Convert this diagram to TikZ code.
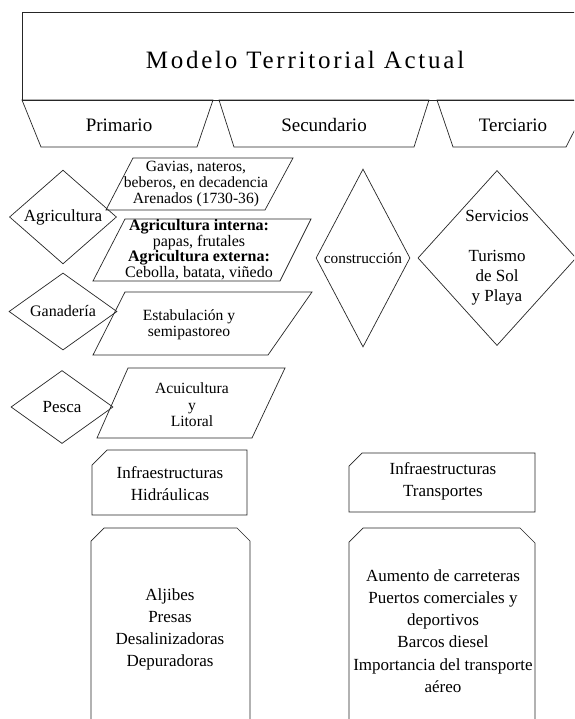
\documentclass[tikz,border=0pt]{standalone}
\usepackage{fontspec}
\setmainfont{Liberation Serif}
\newfontfamily\titlefont[LetterSpace=11]{Liberation Serif}
\usetikzlibrary{shapes.geometric}

\begin{document}
\begin{tikzpicture}[x=1pt, y=-1pt, line width=0.7pt, draw=black!85,
    txt/.style={align=center, inner sep=0pt, font=\fontsize{17}{22}\selectfont},
    tight/.style={align=center, inner sep=0pt, font=\fontsize{15.6}{15.8}\selectfont},
    head/.style={inner sep=0pt, font=\fontsize{19}{22}\selectfont},
    rombo/.style={draw=black!85, diamond, inner sep=0pt, align=center, font=\fontsize{17}{20}\selectfont}]

    \fill[white] (0,0) rectangle (574,719);
    \useasboundingbox (0,0) rectangle (574,719);
    \clip (0,0) rectangle (574,719);

    \draw (22,12) rectangle (590,100);
    \node (titulo) at (305,60) {\titlefont\fontsize{25}{30}\selectfont Modelo Territorial Actual};

    \draw (22,100) -- (213,100) -- (197,147) -- (41,147) -- cycle;
    \draw (219,100) -- (429,100) -- (414,147) -- (234,147) -- cycle;
    \draw (437,100) -- (590,100) -- (566,147) -- (453,147) -- cycle;
    \node[head] (primario) at (119,125) {Primario};
    \node[head] (secundario) at (324,125) {Secundario};
    \node[head] (terciario) at (513,125) {Terciario};

    \node[rombo, minimum width=107pt, minimum height=75pt] (agri) at (63,217) {Agricultura};
    \node[rombo, minimum width=108pt, minimum height=77pt, font=\fontsize{16}{18}\selectfont] (gana) at (63,311.5) {Ganader\'ia};
    \node[rombo, minimum width=102pt, minimum height=73pt] (pesca) at (62,407) {Pesca};
    \node[rombo, minimum width=94pt, minimum height=178pt, font=\fontsize{15.3}{18}\selectfont] (constr) at (363,258) {construcci\'on};
    \node[rombo, minimum width=154pt, minimum height=175pt] (serv) at (497,258) {Servicios\\[20pt]Turismo\\de Sol\\y Playa};

    \draw (133,158) -- (293,158) -- (265,210) -- (106,210) -- cycle;
    \node[tight] (gavias) at (196,184) {Gavias, nateros,\\beberos, en decadencia\\Arenados (1730-36)};
    \draw (125,219) -- (311,219) -- (280,281) -- (93,281) -- cycle;
    \node[tight, font=\fontsize{16}{15.6}\selectfont] (cultivos) at (199,249.5)
        {\textbf{Agricultura interna:}\\papas, frutales\\\textbf{Agricultura externa:}\\Cebolla, batata, viñedo};
    \draw (125,292) -- (312,292) -- (268,355) -- (93,355) -- cycle;
    \node[tight] (estab) at (189,324.5) {Estabulaci\'on y\\semipastoreo};
    \draw (128,368) -- (285,368) -- (252,438) -- (97,438) -- cycle;
    \node[tight, font=\fontsize{15.6}{16.5}\selectfont] (acui) at (192,404.7) {Acuicultura\\y\\Litoral};

    \draw (92,465) -- (107,450) -- (247,450) -- (247,515) -- (92,515) -- cycle;
    \node[txt] (hidr) at (170,484) {Infraestructuras\\Hidr\'aulicas};
    \draw (91,725) -- (91,541) -- (104,528) -- (237,528) -- (250,541) -- (250,725);
    \node[txt] (agua) at (170,629) {Aljibes\\Presas\\Desalinizadoras\\Depuradoras};

    \draw (349,466) -- (362,453) -- (535,453) -- (535,512) -- (349,512) -- cycle;
    \node[txt] (transp) at (443,481.7) {Infraestructuras\\Transportes};
    \draw (349,725) -- (349,542) -- (363,528) -- (520,528) -- (535,543) -- (535,725);
    \node[txt, font=\fontsize{17}{22.3}\selectfont] (redes) at (443,631)
        {Aumento de carreteras\\Puertos comerciales y\\deportivos\\Barcos diesel\\Importancia del transporte\\a\'ereo};
\end{tikzpicture}
\end{document}
